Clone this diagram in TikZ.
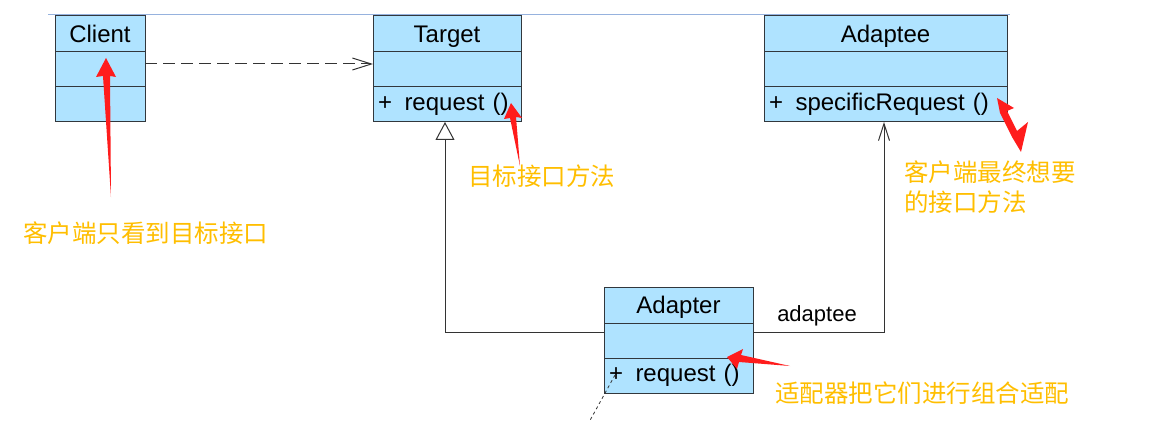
\documentclass[tikz,border=0pt]{standalone}
\usepackage{fontspec}
\setmainfont{Liberation Sans}
\newfontfamily\cjk{Noto Sans CJK SC}
\usetikzlibrary{arrows.meta}
\usetikzlibrary{positioning}
\definecolor{classfill}{RGB}{175,227,255}
\definecolor{classline}{RGB}{50,55,60}
\definecolor{notered}{RGB}{255,28,28}
\definecolor{noteorange}{RGB}{255,190,0}
\definecolor{pagerule}{RGB}{150,178,222}
\tikzset{
  classhead/.style={draw=classline, fill=classfill, line width=1pt, inner sep=0pt, outer sep=0pt, minimum height=36pt, text height=17pt, text depth=0pt, font=\fontsize{24}{27}\selectfont},
  classpart/.style={draw=classline, fill=classfill, line width=1pt, inner ysep=0pt, inner xsep=5pt, outer sep=0pt, minimum height=35pt, font=\fontsize{24}{27}\selectfont, align=left},
  umlline/.style={draw=black!80, line width=1pt},
  remark/.style={text=noteorange, font=\cjk\fontsize{24.5}{30}\selectfont, inner sep=0pt, anchor=west, align=left},
  pointer/.style={fill=notered, draw=none},
}
\newcommand{\opgap}{\hspace{12.5pt}}

\begin{document}
\begin{tikzpicture}[x=1pt,y=-1pt,line join=miter]
\useasboundingbox (0,0) rectangle (1166,422);
\draw [pagerule, line width=1pt] (48,15) -- (1010,15);
% classes
\node [classhead, minimum width=90pt] (client) at (100,34) {Client};
\node [classpart, minimum width=90pt, below=0pt of client] (client-attr) {};
\node [classpart, minimum width=90pt, below=0pt of client-attr] (client-ops) {};
\node [classhead, minimum width=148pt] (target) at (447,34) {Target};
\node [classpart, minimum width=148pt, below=0pt of target] (target-attr) {};
\node [classpart, text width=138pt, below=0pt of target-attr] (target-ops) {+\opgap request ()};
\node [classhead, minimum width=243pt] (adaptee) at (885.5,34) {Adaptee};
\node [classpart, minimum width=243pt, below=0pt of adaptee] (adaptee-attr) {};
\node [classpart, text width=233pt, below=0pt of adaptee-attr] (adaptee-ops) {+\opgap specificRequest ()};
\node [classhead, minimum width=149pt] (adapter) at (678.5,305) {Adapter};
\node [classpart, minimum width=149pt, below=0pt of adapter] (adapter-attr) {};
\node [classpart, text width=139pt, below=0pt of adapter-attr] (adapter-ops) {+\opgap request ()};
% relations
\draw [umlline, dash pattern=on 12pt off 6pt, -{Straight Barb[length=19pt,width=12pt]}] ([yshift=5.5pt]client-attr.east) -- ([yshift=5.5pt]target-attr.west);
\draw [umlline, -{Triangle[open,length=18pt,width=19pt,fill=white]}] ([yshift=8.5pt]adapter-attr.west) -| ([xshift=-2pt]target-ops.south);
\draw [umlline, -{Straight Barb[length=17pt,width=11pt]}] ([yshift=8.5pt]adapter-attr.east) -| ([xshift=-1.5pt]adaptee-ops.south);
\node [font=\fontsize{22}{24}\selectfont, inner sep=0pt] (adaptee-role) at (817,316) {adaptee};
\coordinate (note-from) at (615,375);
\coordinate (note-to) at (588,424);
\draw [umlline, line width=0.8pt, dash pattern=on 3pt off 3pt] (note-from) -- (note-to);
% red pointers
\fill [pointer] (106,58) -- (116,77) -- (110,76) -- (111,197) -- (103,76) -- (96,77) -- cycle;
\fill [pointer] (511,103) -- (522,118) -- (516,117) -- (520,166) -- (510,118) -- (504,119) -- cycle;
\fill [pointer] (997,98) -- (1014,108) -- (1007,111) -- (1017,131) -- (1028,122) -- (1021,152) -- (1012,137) -- (1000,113) -- cycle;
\fill [pointer] (727,357) -- (743,349) -- (741,355) -- (790,366) -- (739,362) -- (737,369) -- cycle;
% remarks
\node [remark] (client-note) at (23,233) {客户端只看到目标接口};
\node [remark] (target-note) at (468,176) {目标接口方法};
\node [remark] (adaptee-note) at (904,187) {客户端最终想要\\的接口方法};
\node [remark] (adapter-note) at (775,393) {适配器把它们进行组合适配};
\end{tikzpicture}
\end{document}
